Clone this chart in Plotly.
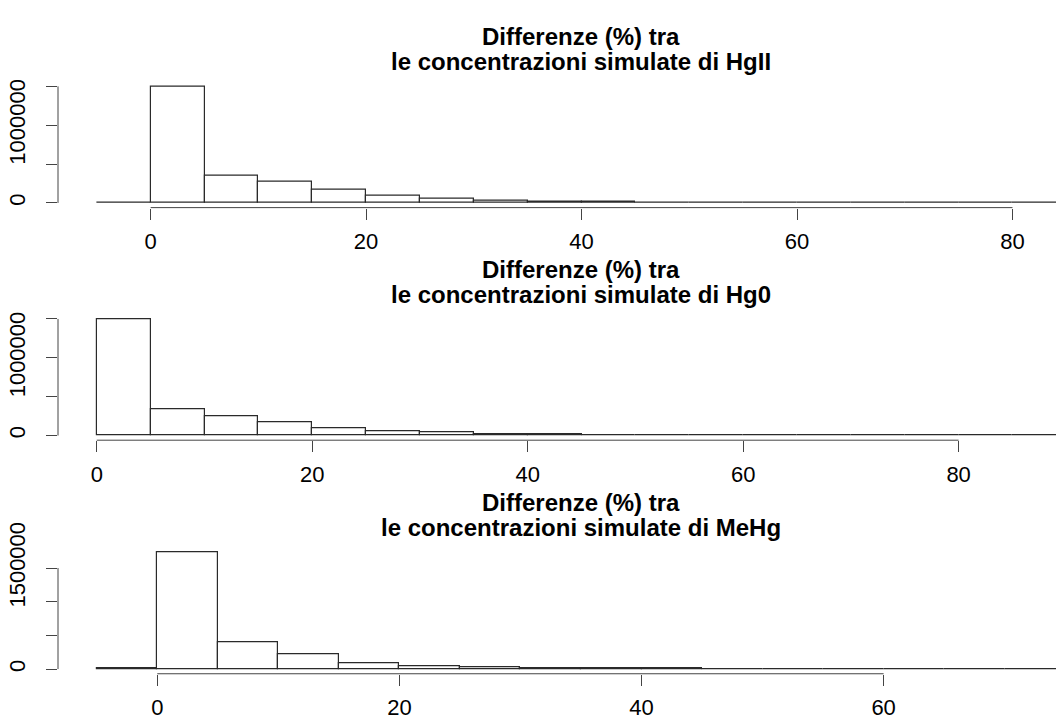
import plotly.graph_objects as go

# ---------------- data ----------------
# HgII histogram (bin left edges, width 5)
hgii_edges = [-5, 0, 5, 10, 15, 20, 25, 30, 35, 40, 45, 50, 55, 60, 65, 70, 75, 80]
hgii_counts = [3000, 1500000, 351000, 269000, 174000, 91000, 50000, 25000, 16000,
               12000, 8000, 6000, 2000, 1000, 500, 300, 100, 50]

# Hg0 histogram
hg0_edges = [0, 5, 10, 15, 20, 25, 30, 35, 40, 45, 50, 55, 60, 65, 70, 75, 80, 85]
hg0_counts = [1500000, 335000, 244000, 170000, 95000, 58000, 37000, 21000, 12000,
              8000, 5000, 4000, 2500, 2000, 1500, 50, 20, 10]

# MeHg histogram
mehg_edges = [-5, 0, 5, 10, 15, 20, 25, 30, 35, 40, 45, 50, 55, 60, 65, 70]
mehg_counts = [8000, 1739000, 404000, 214000, 86000, 38000, 24000, 14000, 10000,
               6000, 4000, 3000, 2500, 2000, 1500, 100]

bin_width = 5

title_line1 = ["Differenze (%) tra"] * 3
title_line2 = ["le concentrazioni simulate di HgII",
               "le concentrazioni simulate di Hg0",
               "le concentrazioni simulate di MeHg"]

x_ticks = [[0, 20, 40, 60, 80], [0, 20, 40, 60, 80], [0, 20, 40, 60]]
y_ticks = [[0, 500000, 1000000, 1500000]] * 3
y_ticktext = [["0", "", "1000000", ""], ["0", "", "1000000", ""], ["0", "", "", "1500000"]]

# ---------------- layout geometry (pixels) ----------------
W, H = 1056, 720
plot_left = 58
panels = [
    dict(edges=hgii_edges, counts=hgii_counts, top=59, bottom=190, xr=[-8.6, 84.04]),
    dict(edges=hg0_edges, counts=hg0_counts, top=301, bottom=432, xr=[-3.6, 89.04]),
    dict(edges=mehg_edges, counts=mehg_counts, top=543.4, bottom=675, xr=[-8.2, 74.24]),
]

fig = go.Figure()
font_fam = "Liberation Sans, Arial, Helvetica, sans-serif"
bar_col = "#2a2a2a"
axis_col = "#444444"

for i, p in enumerate(panels):
    n = i + 1
    xa = "x" if n == 1 else f"x{n}"
    ya = "y" if n == 1 else f"y{n}"
    centers = [e + bin_width / 2 for e in p["edges"]]
    fig.add_trace(go.Bar(
        x=centers, y=p["counts"], width=bin_width,
        marker=dict(color="white", line=dict(color=bar_col, width=1.2)),
        xaxis=xa, yaxis=ya, showlegend=False, hoverinfo="x+y",
    ))
    m = max(p["counts"])
    yr = [-0.04 * m, 1.04 * m]
    ydom = [1 - p["bottom"] / H, 1 - p["top"] / H]
    xkey = "xaxis" if n == 1 else f"xaxis{n}"
    ykey = "yaxis" if n == 1 else f"yaxis{n}"
    fig.layout[xkey] = dict(
        domain=[plot_left / W, 1], range=p["xr"], anchor=ya,
        showgrid=False, zeroline=False, showline=False,
        ticks="outside", ticklen=11, tickwidth=1, tickcolor=axis_col,
        tickvals=x_ticks[i], ticktext=[str(v) for v in x_ticks[i]],
        tickfont=dict(family=font_fam, size=22, color="black"),
        ticklabelstandoff=3, fixedrange=True,
    )
    fig.layout[ykey] = dict(
        domain=ydom, range=yr, anchor=xa,
        showgrid=False, zeroline=False, showline=False,
        ticks="outside", ticklen=11, tickwidth=1, tickcolor=axis_col,
        tickvals=y_ticks[i], ticktext=y_ticktext[i], tickangle=-90,
        tickfont=dict(family=font_fam, size=22, color="black"),
        ticklabelstandoff=12, fixedrange=True,
    )
    # R-style axis lines spanning first..last tick
    fig.add_shape(type="line", xref=xa, yref=f"{ya} domain",
                  x0=min(x_ticks[i]), x1=max(x_ticks[i]), y0=0, y1=0,
                  line=dict(color=axis_col, width=1))
    fig.add_shape(type="line", xref=f"{xa} domain", yref=ya,
                  x0=0, x1=0, y0=min(y_ticks[i]), y1=max(y_ticks[i]),
                  line=dict(color=axis_col, width=1))
    # two-line bold title centred over the (full) plot region
    for txt, off in ((title_line1[i], 47), (title_line2[i], 21)):
        fig.add_annotation(
            text="<b>" + txt + "</b>", xref="paper", yref="paper",
            x=581 / W, y=1 - (p["top"] - off) / H, xanchor="center", yanchor="middle",
            showarrow=False, font=dict(family=font_fam, size=24, color="black"),
        )

fig.update_layout(
    width=W, height=H, margin=dict(l=0, r=0, t=0, b=0),
    paper_bgcolor="white", plot_bgcolor="white", bargap=0,
)

fig.write_html("out.html")
